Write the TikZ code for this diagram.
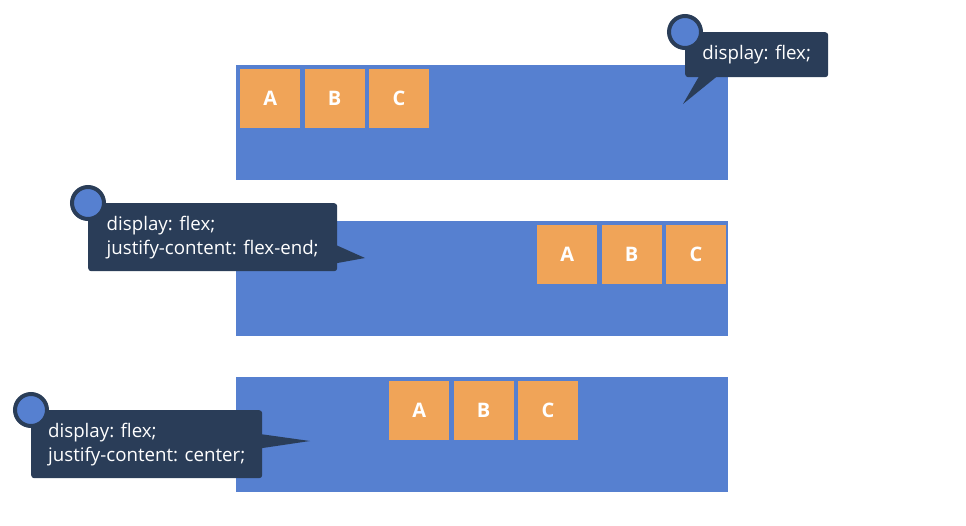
\documentclass[tikz,border=0pt]{standalone}
\usepackage{fontspec}
\setmainfont{Open Sans}
\usetikzlibrary{positioning,calc}
\definecolor{flexblue}{RGB}{86,128,208}
\definecolor{itemorange}{RGB}{240,164,88}
\definecolor{tipnavy}{RGB}{42,61,88}

\begin{document}
\begin{tikzpicture}[x=1pt,y=-1pt,
  container/.style={fill=flexblue, minimum width=492pt, minimum height=115pt, anchor=north west, inner sep=0pt},
  item/.style={fill=itemorange, minimum width=60pt, minimum height=59pt, inner sep=0pt,
    text=white, font=\bfseries\fontsize{20}{20}\selectfont},
  tip/.style={fill=tipnavy, rounded corners=3pt, anchor=north west, text=white, align=left,
    font=\fontsize{18.7}{24}\selectfont, inner sep=0pt},
  pin/.style={circle, draw=tipnavy, line width=4pt, fill=flexblue, minimum size=32pt, inner sep=0pt}]
  \useasboundingbox (0,0) rectangle (966,525);

  % containers
  \node[container] (row1) at (236,65) {};
  \node[container] (row2) at (236,221) {};
  \node[container] (row3) at (236,377) {};

  % items
  \node[item, anchor=north west] (a1) at (240,69) {A};
  \node[item, right=4pt of a1] (b1) {B};
  \node[item, right=4pt of b1] (c1) {C};

  \node[item, anchor=north west] (a2) at (537,225) {A};
  \node[item, right=4pt of a2] (b2) {B};
  \node[item, right=4pt of b2] (c2) {C};

  \node[item, anchor=north west] (a3) at (389,381) {A};
  \node[item, right=4pt of a3] (b3) {B};
  \node[item, right=4pt of b3] (c3) {C};

  % callouts
  \node[tip, minimum width=143pt, minimum height=45pt] (tip1) at (685,32) {display: flex;};
  \coordinate (end1) at (683,104);
  \fill[tipnavy] ($(tip1.south west)+(14,-1)$) -- (end1) -- ($(tip1.south west)+(32,-1)$) -- cycle;
  \node[pin] (pin1) at (tip1.north west) {};

  \node[tip, minimum width=249pt, minimum height=68pt] (tip2) at (88,203) {display: flex;\\justify-content: flex-end;};
  \coordinate (end2) at (365,258);
  \fill[tipnavy] ($(tip2.east)+(-1,8)$) -- (end2) -- ($(tip2.east)+(-1,26)$) -- cycle;
  \node[pin] (pin2) at (tip2.north west) {};

  \node[tip, minimum width=231pt, minimum height=68pt] (tip3) at (31,410) {display: flex;\\justify-content: center;};
  \coordinate (end3) at (310,441);
  \fill[tipnavy] ($(tip3.east)+(-1,-10)$) -- (end3) -- ($(tip3.east)+(-1,4)$) -- cycle;
  \node[pin] (pin3) at (tip3.north west) {};
\end{tikzpicture}
\end{document}
